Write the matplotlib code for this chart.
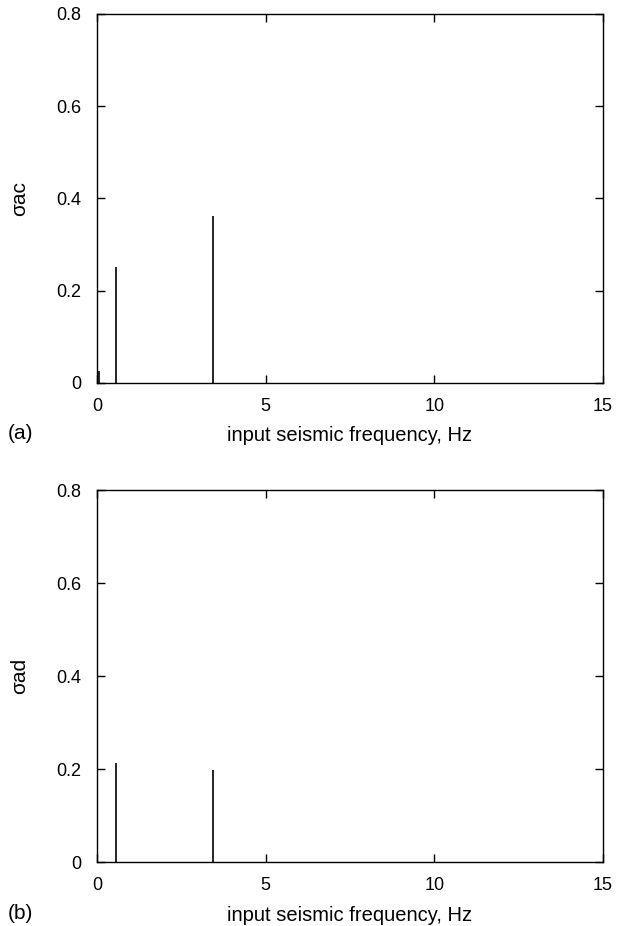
import matplotlib
matplotlib.use('Agg')
import matplotlib.pyplot as plt

plt.rcParams['font.family'] = ['Liberation Sans', 'DejaVu Sans']
plt.rcParams['font.size'] = 13

# spike positions (Hz) and heights
freq_a = [0.05, 0.55, 3.45]
sigma_ac = [0.025, 0.252, 0.362]
freq_b = [0.55, 3.45]
sigma_ad = [0.213, 0.198]

xticks = [0, 5, 10, 15]
yticks = [0, 0.2, 0.4, 0.6, 0.8]
ytick_labels = ['0', '0.2', '0.4', '0.6', '0.8']

fig = plt.figure(figsize=(6.23, 9.26), dpi=100)
ax1 = fig.add_axes([0.1557, 0.5864, 0.812, 0.3985])
ax2 = fig.add_axes([0.1557, 0.0691, 0.812, 0.4017])

panels = [(ax1, freq_a, sigma_ac, 'σac', '(a)'),
          (ax2, freq_b, sigma_ad, 'σad', '(b)')]

for ax, f, s, ylab, tag in panels:
    ax.vlines(f, 0, s, color='black', linewidth=1.2)
    ax.set_xlim(0, 15)
    ax.set_ylim(0, 0.8)
    ax.set_xticks(xticks)
    ax.set_xticklabels([str(t) for t in xticks])
    ax.set_yticks(yticks)
    ax.set_yticklabels(ytick_labels)
    ax.tick_params(direction='in', top=True, right=True, length=6, width=1, pad=11)
    for sp in ax.spines.values():
        sp.set_linewidth(1)
    ax.set_xlabel('input seismic frequency, Hz', fontsize=14.5)
    ax.xaxis.label.set_va('center')
    ax.xaxis.set_label_coords(0.5, -0.143)
    ax.set_ylabel(ylab, fontsize=15)
    ax.yaxis.label.set_va('center')
    ax.yaxis.set_label_coords(-0.152, 0.5)
    ax.text(-0.176, -0.138, tag, transform=ax.transAxes, fontsize=15, va='center', ha='left')

plt.savefig('out.png', dpi=100)
